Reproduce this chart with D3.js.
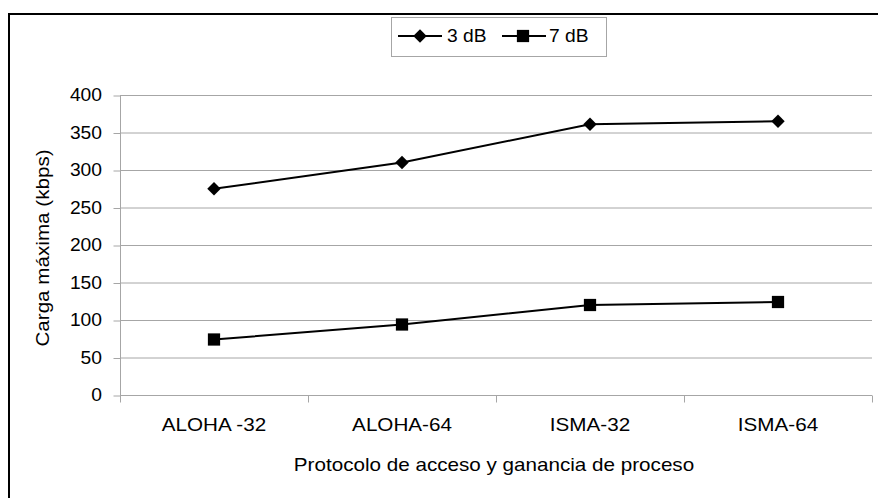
<!DOCTYPE html>
<html><head><meta charset="utf-8">
<script src="https://cdn.jsdelivr.net/npm/d3@7"></script>
<style>html,body{margin:0;padding:0;background:#fff;}svg{display:block;font-family:"Liberation Sans",Arial,sans-serif;}</style>
</head><body>
<script>
const categories = ["ALOHA -32", "ALOHA-64", "ISMA-32", "ISMA-64"];
const series3dB = [275, 310, 361, 365];
const series7dB = [74, 94, 120, 124];
const seriesNames = ["3 dB", "7 dB"];
const yTicks = [0, 50, 100, 150, 200, 250, 300, 350, 400];

const W = 878, H = 498;
const FS = 17.5, SX = 1.18;
const svg = d3.select("body").append("svg").attr("width", W).attr("height", H);

function label(g, x, y, txt, anchor, rot, sx) {
  return g.append("text")
    .attr("transform", `translate(${x},${y})${rot ? " rotate(" + rot + ")" : ""} scale(${sx || SX},1)`)
    .attr("text-anchor", anchor || "start")
    .attr("font-size", FS).attr("fill", "#000").text(txt);
}

// outer border
svg.append("path").attr("d", `M9,${H+5} L9,14 L${W+5},14`).attr("fill","none").attr("stroke","#000").attr("stroke-width",2);

const x = d3.scaleBand().domain(categories).range([120, 872]);
const y = d3.scaleLinear().domain([0, 400]).range([395, 95]);

// gridlines
svg.append("g").selectAll("line").data(yTicks.filter(d=>d>0)).join("line")
  .attr("x1",120).attr("x2",872).attr("y1",d=>y(d)+0.5).attr("y2",d=>y(d)+0.5)
  .attr("stroke","#a6a6a6").attr("stroke-width",1);

// y axis
const yAxis = svg.append("g").attr("transform","translate(120.5,0.5)")
  .call(d3.axisLeft(y).tickValues(yTicks).tickSize(7).tickFormat(""));
yAxis.select(".domain").attr("stroke","#a6a6a6").attr("d","M0,"+y(400)+"V"+y(0));
yAxis.selectAll(".tick line").attr("stroke","#a6a6a6");
const yl = svg.append("g");
yTicks.forEach(t => label(yl, 102, y(t) + 6, String(t), "end", 0, 1.1));

// x axis
const xg = svg.append("g").attr("transform","translate(0,395.5)");
xg.append("line").attr("x1",120).attr("x2",872).attr("stroke","#a6a6a6");
const bounds = categories.map(c=>x(c)).concat([x.range()[1]]);
xg.selectAll("line.tk").data(bounds).join("line").attr("class","tk")
  .attr("x1",d=>Math.round(d)+0.5).attr("x2",d=>Math.round(d)+0.5).attr("y1",0).attr("y2",7).attr("stroke","#a6a6a6");
const xl = svg.append("g");
categories.forEach(c => label(xl, x(c) + x.bandwidth()/2, 431, c, "middle"));

// axis titles
label(svg, 494, 471, "Protocolo de acceso y ganancia de proceso", "middle");
label(svg, 49, 248, "Carga máxima (kbps)", "middle", -90);

const cx = d => x(d)+x.bandwidth()/2;
const line = d3.line().x((d,i)=>cx(categories[i])).y(d=>y(d));
const diamond = d3.symbol().type(d3.symbolDiamond2 || d3.symbolDiamond).size(115);
const square = d3.symbol().type(d3.symbolSquare).size(150);

svg.append("path").datum(series3dB).attr("d",line).attr("fill","none").attr("stroke","#000").attr("stroke-width",2);
svg.append("path").datum(series7dB).attr("d",line).attr("fill","none").attr("stroke","#000").attr("stroke-width",2);
svg.append("g").selectAll("path").data(series3dB).join("path")
  .attr("transform",(d,i)=>`translate(${cx(categories[i])},${y(d)})`).attr("d",diamond).attr("fill","#000");
svg.append("g").selectAll("path").data(series7dB).join("path")
  .attr("transform",(d,i)=>`translate(${cx(categories[i])},${y(d)})`).attr("d",square).attr("fill","#000");

// legend
const lg = svg.append("g");
lg.append("rect").attr("x",391.5).attr("y",17.5).attr("width",215).attr("height",39).attr("fill","#fff").attr("stroke","#a6a6a6");
lg.append("line").attr("x1",398).attr("x2",442).attr("y1",36).attr("y2",36).attr("stroke","#000").attr("stroke-width",2);
lg.append("path").attr("transform","translate(420,36)").attr("d",diamond).attr("fill","#000");
label(lg, 447, 42, seriesNames[0], "start", 0, 1.1);
lg.append("line").attr("x1",502).attr("x2",546).attr("y1",36).attr("y2",36).attr("stroke","#000").attr("stroke-width",2);
lg.append("path").attr("transform","translate(523,36)").attr("d",square).attr("fill","#000");
label(lg, 549, 42, seriesNames[1], "start", 0, 1.1);
</script>
</body></html>
